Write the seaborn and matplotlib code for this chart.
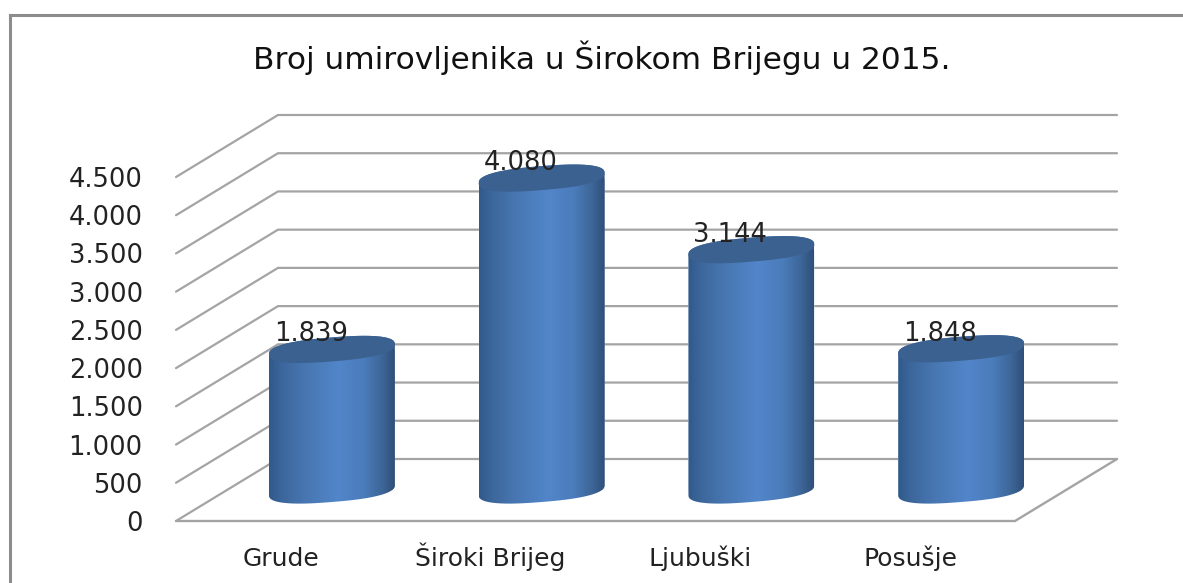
import numpy as np
import matplotlib
matplotlib.use("Agg")
import matplotlib.pyplot as plt
from matplotlib.colors import LinearSegmentedColormap
from matplotlib.lines import Line2D
from matplotlib.patches import Polygon
import seaborn as sns

categories = ["Grude", "Široki Brijeg", "Ljubuški", "Posušje"]
values = [1839, 4080, 3144, 1848]
y_ticks = [0, 500, 1000, 1500, 2000, 2500, 3000, 3500, 4000, 4500]
title = "Broj umirovljenika u Širokom Brijegu u 2015."

W, H = 1183, 583
X0, X1, Y0, Y4500 = 176, 1015, 521, 177
TEXT = "#222222"
GRID = "#a4a4a4"

def fmt(v):
    return f"{v:,}".replace(",", ".")

sns.set_theme(style="white")
plt.rcParams["font.family"] = ["DejaVu Sans"]

fig = plt.figure(figsize=(W / 100, H / 100), dpi=100, facecolor="white")
ax = fig.add_axes([X0 / W, 1 - Y0 / H, (X1 - X0) / W, (Y0 - Y4500) / H])
sns.barplot(x=categories, y=values, width=0.6, color="#4a7ab8", ax=ax, zorder=3)
ax.set_xlim(-0.5, 3.5)
ax.set_ylim(0, 4500)
ax.patch.set_visible(False)
sns.despine(ax=ax, left=True, bottom=True, top=True, right=True)

px_x = (X1 - X0) / 4          # pixels per category
px_y = (Y0 - Y4500) / 4500    # pixels per value unit

# Depth of the 3D box, as offsets in data units
back_dx, back_dy = 102 / px_x, 62 / px_y
mid_dx, mid_dy = 51 / px_x, 31 / px_y

# Walls, floor
for t in y_ticks:
    ax.plot([-0.5, -0.5 + back_dx, 3.5 + back_dx], [t, t + back_dy, t + back_dy],
            color=GRID, lw=1.6, clip_on=False, zorder=1, solid_joinstyle="miter")
ax.plot([-0.5, 3.5, 3.5 + back_dx], [0, 0, back_dy], color=GRID, lw=1.7,
        clip_on=False, zorder=1, solid_joinstyle="miter")

# Cylinders on top of the seaborn bars
cmap = LinearSegmentedColormap.from_list("cyl", [
    (0.00, "#31598a"), (0.10, "#3c679c"), (0.30, "#4877b2"), (0.55, "#5286ca"),
    (0.75, "#4b7cbb"), (0.90, "#3d6698"), (1.00, "#2f4f78")])
gradient = np.linspace(0, 1, 256)[None, :]

tilt = 5 / px_y
minor = 12 / px_y
theta = np.linspace(0, 2 * np.pi, 361)
cs = np.sign(np.cos(theta)) * np.abs(np.cos(theta)) ** 0.8
sn = np.sign(np.sin(theta)) * np.abs(np.sin(theta)) ** 0.8

for patch, value in zip(ax.patches, values):
    patch.set_x(patch.get_x() + mid_dx)
    patch.set_y(mid_dy)
    xl, w = patch.get_x(), patch.get_width()
    xc = xl + w / 2
    base, top = mid_dy, mid_dy + value
    ex = w / 2 * cs
    ey = minor * sn + tilt * cs
    upper = theta <= np.pi
    lower = theta >= np.pi
    outline = np.vstack([
        np.column_stack([xc + ex[upper], top + ey[upper]]),
        np.column_stack([xc + ex[lower], base + ey[lower]]),
    ])
    body = Polygon(outline, closed=True, transform=ax.transData)
    patch.set_clip_path(body)
    im = ax.imshow(gradient, extent=[xl, xl + w, base - 2 * minor, top + 2 * minor],
                   cmap=cmap, aspect="auto", zorder=3.1, vmin=0, vmax=1)
    im.set_clip_box(fig.bbox)
    im.set_clip_path(body)
    ax.add_patch(Polygon(np.column_stack([xc + ex, top + ey]), closed=True,
                         facecolor="#3b6190", edgecolor="none", clip_on=False, zorder=3.2))
    ax.annotate(fmt(value), xy=(xc, top), xytext=(-21 * 0.72, 15 * 0.72),
                textcoords="offset points", ha="center", va="center",
                fontsize=18.5, color=TEXT, zorder=4, annotation_clip=False)

ax.set_xlim(-0.5, 3.5)
ax.set_ylim(0, 4500)
ax.set_yticks(y_ticks, [fmt(t) for t in y_ticks])
ax.tick_params(axis="y", length=0, pad=24, labelsize=18.5, labelcolor=TEXT)
ax.tick_params(axis="x", length=0, pad=32.4, labelsize=18, labelcolor=TEXT)
for lab in ax.get_xticklabels():
    lab.set_verticalalignment("baseline")
ax.set_xlabel("")
ax.set_ylabel("")

fig.suptitle(title, x=602 / W, y=1 - 58 / H, ha="center", va="center",
             fontsize=22.5, color="#111111")

# Chart frame
frame = dict(color="#8c8c8c", lw=2.2, transform=fig.transFigure, solid_capstyle="projecting")
fig.add_artist(Line2D([10 / W, 10 / W], [0, 1 - 15 / H], **frame))
fig.add_artist(Line2D([10 / W, 1], [1 - 15 / H, 1 - 15 / H], **frame))

fig.savefig("out.png", dpi=100)
